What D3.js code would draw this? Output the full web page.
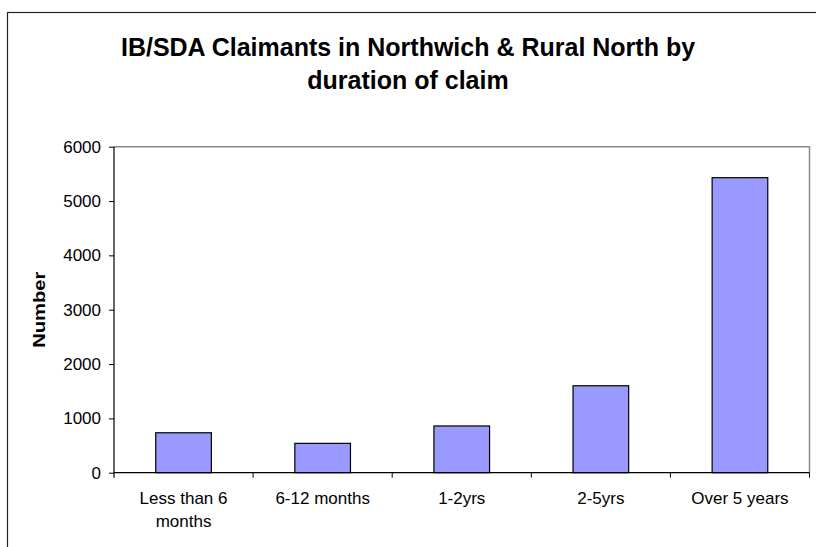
<!DOCTYPE html>
<html>
<head>
<meta charset="utf-8">
<script src="https://cdn.jsdelivr.net/npm/d3@7"></script>
<style>
	body { margin: 0; background: #fff; }
	svg { display: block; font-family: Arial, "Liberation Sans", sans-serif; }
</style>
</head>
<body>
<script>
const width = 816,
	height = 547

const categories = ["Less than 6 months", "6-12 months", "1-2yrs", "2-5yrs", "Over 5 years"]
const claimants = [735, 540, 860, 1600, 5430]
const yTicks = [0, 1000, 2000, 3000, 4000, 5000, 6000]
const titleLines = ["IB/SDA Claimants in Northwich & Rural North by", "duration of claim"]

// category labels wrap like excel does
const labelLines = {
	"Less than 6 months": ["Less than 6", "months"]
}

const plot = { left: 114, right: 809.5, top: 146.7, bottom: 472.7 }

const x = d3
	.scaleBand()
	.domain(categories)
	.range([plot.left, plot.right])
	.paddingInner(0.6)
	.paddingOuter(0.3)

const y = d3.scaleLinear().domain([0, 6000]).range([plot.bottom, plot.top])

const svg = d3
	.select("body")
	.append("svg")
	.attr("width", width)
	.attr("height", height)

// outer chart frame (runs off right and bottom of the picture)
svg.append("rect")
	.attr("x", 7.5)
	.attr("y", 12.5)
	.attr("width", width + 10)
	.attr("height", height + 10)
	.attr("fill", "none")
	.attr("stroke", "#222")
	.attr("stroke-width", 1.2)

// title
const title = svg.append("text")
	.attr("text-anchor", "middle")
	.attr("font-weight", "bold")
	.attr("font-size", 25)
	.attr("fill", "#000")

titleLines.forEach((line, i) => {
	title.append("tspan")
		.attr("x", 408)
		.attr("y", 56 + i * 33)
		.text(line)
})

// plot area frame: grey top and right
svg.append("path")
	.attr("d", `M${plot.left},${plot.top}H${plot.right}V${plot.bottom}`)
	.attr("fill", "none")
	.attr("stroke", "#8c8c8c")
	.attr("stroke-width", 1.5)

// bars
svg.selectAll("rect.bar")
	.data(categories)
	.enter()
	.append("rect")
	.attr("class", "bar")
	.attr("x", d => x(d))
	.attr("width", x.bandwidth())
	.attr("y", (d, i) => y(claimants[i]))
	.attr("height", (d, i) => y(0) - y(claimants[i]))
	.attr("fill", "#9999ff")
	.attr("stroke", "#000")
	.attr("stroke-width", 1.2)

// y axis
const yAxis = svg.append("g")
	.attr("transform", `translate(${plot.left},0)`)
	.call(d3.axisLeft(y).tickValues(yTicks).tickSize(5).tickPadding(8).tickFormat(d3.format("d")))

yAxis.select(".domain").attr("d", `M0,${plot.top}V${plot.bottom + 5}`).attr("stroke", "#000").attr("stroke-width", 1.2)
yAxis.selectAll("text").attr("font-size", 17).attr("font-family", "Arial, 'Liberation Sans', sans-serif").attr("fill", "#000")
yAxis.selectAll("line").attr("stroke", "#000")

// x axis: ticks between categories
const boundaries = categories.map(c => x(c) - x.step() * 0.3).concat([plot.right])

const xAxis = svg.append("g")

xAxis.append("line")
	.attr("x1", plot.left)
	.attr("x2", plot.right)
	.attr("y1", plot.bottom)
	.attr("y2", plot.bottom)
	.attr("stroke", "#000")
	.attr("stroke-width", 1.2)

xAxis.selectAll("line.tick")
	.data(boundaries.slice(1))
	.enter()
	.append("line")
	.attr("class", "tick")
	.attr("x1", d => d)
	.attr("x2", d => d)
	.attr("y1", plot.bottom)
	.attr("y2", plot.bottom + 5)
	.attr("stroke", "#000")

const catLabel = xAxis.selectAll("text.cat")
	.data(categories)
	.enter()
	.append("text")
	.attr("class", "cat")
	.attr("text-anchor", "middle")
	.attr("font-size", 17)
	.attr("fill", "#000")

catLabel.each(function(d) {
	const lines = labelLines[d] || [d]
	lines.forEach((line, i) => {
		d3.select(this).append("tspan")
			.attr("x", x(d) + x.bandwidth() / 2)
			.attr("y", 503.5 + i * 23)
			.text(line)
	})
})

// y axis title
svg.append("text")
	.attr("transform", `translate(45,${(plot.top + plot.bottom) / 2}) rotate(-90)`)
	.attr("text-anchor", "middle")
	.attr("font-weight", "bold")
	.attr("font-size", 16)
	.attr("textLength", 76)
	.attr("lengthAdjust", "spacingAndGlyphs")
	.attr("fill", "#000")
	.text("Number")
</script>
</body>
</html>
